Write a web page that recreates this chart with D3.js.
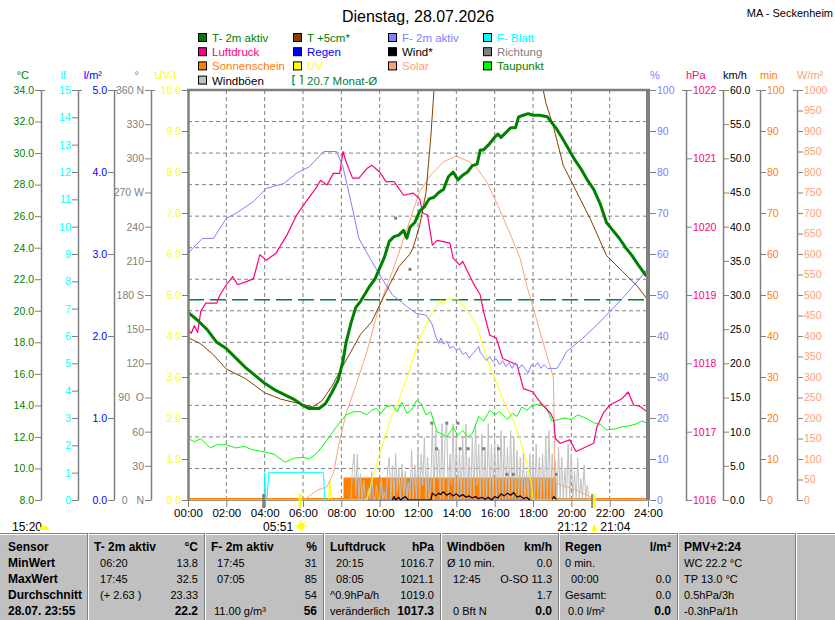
<!DOCTYPE html>
<html>
<head>
<meta charset="utf-8">
<script src="https://cdn.jsdelivr.net/npm/d3@7/dist/d3.min.js"></script>
<style>
  body { margin: 0; background: #fff; }
  text { font-family: "Liberation Sans", Arial, sans-serif; }
</style>
</head>
<body>
<svg id="chart" width="835" height="620"></svg>
<script>
// ---------- data (time "HH:MM", value) ----------
var titleText = "Dienstag, 28.07.2026";
var stationText = "MA - Seckenheim";
var monthAvg = 20.7;

var temp2m = [["00:00",19.9],["00:30",19.4],["01:00",18.8],["01:30",18.0],["02:00",17.6],["02:30",17.0],
  ["03:00",16.4],["03:30",15.9],["04:00",15.4],["04:30",15.0],["05:00",14.7],["05:30",14.4],["06:00",14.0],
  ["06:20",13.8],["06:50",13.8],["07:10",14.1],["07:30",14.8],["07:50",15.6],["08:05",16.8],["08:15",18.0],
  ["08:30",19.2],["08:45",20.2],["09:00",20.6],["09:15",21.1],["09:30",21.6],["09:45",22.0],["10:00",22.7],
  ["10:15",23.4],["10:30",24.4],["10:45",24.7],["11:00",24.8],["11:15",25.1],["11:25",24.6],["11:35",25.3],
  ["11:50",25.6],["12:05",26.3],["12:20",26.6],["12:35",27.1],["12:50",27.2],["13:05",27.5],["13:20",27.7],
  ["13:35",28.5],["13:50",28.8],["14:05",28.3],["14:20",28.6],["14:35",28.8],["14:50",29.2],["15:05",29.3],
  ["15:15",30.2],["15:25",30.2],["15:40",30.5],["16:00",31.0],["16:10",31.2],["16:20",31.0],["16:35",31.3],
  ["16:50",31.6],["17:05",31.6],["17:15",32.3],["17:30",32.4],["17:45",32.5],["18:00",32.4],["18:20",32.4],
  ["18:45",32.3],["19:00",31.9],["19:15",31.5],["19:30",31.0],["19:50",30.3],["20:10",29.6],["20:30",29.0],
  ["20:50",28.3],["21:10",27.7],["21:30",26.8],["21:50",25.6],["22:10",25.1],["22:30",24.6],["22:50",24.0],
  ["23:10",23.5],["23:30",22.9],["23:55",22.2]];

var temp5cm = [["00:00",18.3],["00:40",17.9],["01:20",17.2],["02:00",16.3],["03:00",15.7],["04:00",14.8],
  ["04:50",14.4],["05:50",14.1],["06:30",13.9],["07:00",14.3],["07:30",15.2],["08:05",16.5],["08:30",17.4],
  ["09:00",18.5],["09:35",19.3],["10:20",21.2],["11:00",22.8],["11:35",23.6],["11:45",24.0],["12:05",25.4],
  ["12:25",27.5],["12:40",31.0],["12:50",34.0],["13:10",37.0],["14:00",42.0],["15:00",45.0],["16:00",46.0],
  ["17:00",44.0],["18:00",38.0],["18:30",34.2],["18:40",33.2],["19:05",31.6],["19:35",29.2],["20:15",27.6],
  ["21:00",25.8],["21:50",23.5],["22:40",22.5],["23:25",21.6],["23:55",20.8]];

var humidity = [["00:00",60],["00:15",61.4],["00:45",63.8],["01:20",63.8],["02:00",68.7],["02:30",69.9],
  ["03:25",72.8],["04:05",76.0],["05:00",77.2],["05:40",79.7],["06:20",81.3],["07:05",85],["07:45",85],
  ["08:05",81.3],["08:30",72.8],["08:55",63.8],["09:30",58.9],["10:00",54.9],["10:40",50.0],["11:25",47.2],
  ["11:55",45.5],["12:25",45.1],["12:35",44.0],["12:45",42.7],["12:55",40.0],["13:05",38.2],["13:12",39.5],
  ["13:20",38.0],["13:30",38.8],["13:40",37.0],["13:50",37.5],["14:00",36.5],["14:10",37.0],["14:20",35.5],
  ["14:30",36.0],["14:40",34.6],["14:50",35.5],["15:00",36.5],["15:10",37.5],["15:15",36.0],["15:25",35.0],
  ["15:35",34.0],["15:45",35.0],["15:55",33.7],["16:05",34.5],["16:15",33.0],["16:25",34.0],["16:35",32.5],
  ["16:45",33.5],["16:55",32.1],["17:05",33.5],["17:15",32.0],["17:25",33.0],["17:35",32.0],["17:45",31.0],
  ["17:55",33.0],["18:05",32.5],["18:15",33.5],["18:25",32.1],["18:35",33.0],["18:45",32.1],["19:15",32.1],
  ["19:30",34.0],["19:45",36.2],["20:35",39.4],["21:20",42.7],["22:00",45.9],["22:40",49.2],["23:25",53.2],
  ["23:55",56]];

var pressure = [["00:00",1018.5],["00:10",1018.44],["00:20",1018.55],["00:30",1018.45],["00:40",1018.76],
  ["00:55",1018.88],["01:30",1018.88],["01:40",1019.0],["02:00",1019.15],["02:20",1019.27],["02:35",1019.15],
  ["03:05",1019.2],["03:25",1019.24],["03:45",1019.59],["04:05",1019.51],["04:35",1019.61],["05:10",1019.88],
  ["05:40",1020.17],["06:10",1020.37],["06:40",1020.56],["06:55",1020.68],["07:15",1020.61],["07:35",1020.78],
  ["07:55",1020.78],["08:05",1021.1],["08:15",1020.95],["08:35",1020.71],["08:55",1020.71],["09:20",1020.85],
  ["09:35",1020.9],["10:00",1020.8],["10:20",1020.66],["10:45",1020.66],["11:15",1020.46],["11:45",1020.49],
  ["12:05",1020.41],["12:15",1020.2],["12:30",1020.17],["12:45",1019.73],["13:00",1019.8],["13:40",1019.76],
  ["13:50",1019.54],["14:10",1019.44],["14:20",1019.49],["14:50",1019.2],["15:15",1019.0],["15:25",1018.76],
  ["15:45",1018.41],["16:05",1018.37],["16:25",1018.07],["16:50",1018.02],["17:10",1017.98],["17:30",1017.63],
  ["18:00",1017.58],["18:10",1017.51],["18:30",1017.39],["18:55",1017.27],["19:05",1017.17],["19:10",1016.9],
  ["19:25",1016.83],["19:55",1016.88],["20:15",1016.71],["21:10",1016.83],["21:20",1017.07],["21:40",1017.27],
  ["22:00",1017.39],["22:30",1017.46],["22:40",1017.49],["22:58",1017.58],["23:15",1017.39],["23:35",1017.37],
  ["23:55",1017.3]];

var dewPoint = [["00:00",11.9],["00:20",11.7],["00:40",11.9],["01:10",11.3],["01:30",11.5],["02:00",11.5],
  ["02:30",11.3],["02:55",11.4],["03:20",11.2],["03:45",11.1],["04:10",11.0],["04:30",10.9],["04:50",10.6],
  ["05:05",10.4],["05:30",10.65],["06:00",10.7],["06:20",10.6],["06:45",11.0],["07:15",11.8],["07:45",12.65],
  ["08:15",13.4],["08:40",13.6],["09:00",13.6],["09:20",13.4],["09:35",13.7],["09:50",13.8],["10:05",13.5],
  ["10:20",13.9],["10:40",14.0],["10:55",13.6],["11:10",14.2],["11:25",13.5],["11:40",13.7],["11:55",14.3],
  ["12:10",14.1],["12:25",13.4],["12:40",13.6],["13:00",12.3],["13:15",12.2],["13:30",12.0],["13:50",12.6],
  ["14:05",12.1],["14:20",12.4],["14:35",12.0],["14:50",12.2],["15:10",13.3],["15:25",13.0],["15:45",13.7],
  ["16:00",13.4],["16:15",13.6],["16:40",13.1],["16:55",13.5],["17:10",13.3],["17:25",13.9],["17:40",13.7],
  ["18:00",14.0],["18:20",14.1],["18:40",13.9],["19:00",13.0],["19:20",13.1],["19:40",13.2],["20:00",13.1],
  ["20:20",13.4],["20:45",13.2],["21:10",12.9],["21:30",12.8],["21:50",12.45],["22:15",12.5],["22:40",12.65],
  ["23:00",12.7],["23:20",12.8],["23:40",13.0],["23:55",12.9]];

var solar = [["00:00",0],["05:50",0],["06:10",4],["06:45",24],["07:15",32],["07:35",65],["07:55",146],
  ["08:15",211],["08:50",290],["09:20",362],["10:00",476],["10:40",557],["11:25",660],["12:05",752],
  ["12:40",793],["13:20",825],["14:00",839],["14:40",825],["15:05",809],["15:35",776],["16:05",727],
  ["16:50",646],["17:20",589],["17:40",524],["18:10",443],["18:40",362],["19:04",297],["19:08",45],
  ["19:25",37],["20:15",24],["21:00",8],["21:10",0],["23:55",0]];

var uvIndex = [["00:00",0],["07:20",0],["07:24",0.5],["07:28",0],["09:20",0],["09:40",0.57],["10:00",1.14],
  ["10:40",2.11],["10:55",2.32],["11:35",3.21],["12:05",3.94],["12:40",4.51],["13:10",4.88],["13:20",4.76],
  ["13:30",4.9],["14:05",4.9],["14:30",4.68],["15:05",4.27],["15:25",3.7],["15:55",3.05],["16:25",2.48],
  ["16:40",2.2],["16:58",1.95],["17:20",1.46],["17:40",0.9],["17:55",0.41],["18:00",0],["23:55",0]];

var sunshine = [["00:00",0],["08:10",0],["08:10",5],["19:10",5],["19:10",0],["23:55",0]];
var rain = [["00:00",0],["23:55",0]];
var leafWet = [["03:58",0],["04:00",1],["04:04",0],["04:07",0],["04:13",1],["07:04",1],["07:08",0]];

// wind gusts, 5 minute values starting 08:30
var gustStart = "08:30";
var gusts = [
  0, 4.5, 6.6, 0.5, 6.6, 0, 3.7, 0, 2.7, 0, 0, 1.5,
  0, 4.0, 0, 0, 2.0, 0, 0, 3.0, 0, 1.0, 0, 4.1,
  6.1, 0, 4.9, 0, 6.6, 1.0, 4.6, 0, 5.1, 0, 4.1, 0,
  2.5, 0, 7.1, 0, 5.0, 0, 7.1, 0, 6.6, 2.0, 9.0, 0,
  6.1, 0, 2.0, 11.3, 0, 10.0, 3.0, 7.3, 0, 11.0, 0, 9.5,
  11.0, 0, 6.6, 2.0, 11.0, 0, 9.0, 0, 7.1, 0, 9.0, 0,
  11.0, 0, 6.1, 0, 9.0, 0, 11.0, 2.0, 8.0, 0, 9.5, 0,
  7.6, 0, 11.0, 0, 8.0, 0, 9.0, 0, 8.0, 0, 10.0, 0,
  9.0, 0, 7.6, 0, 10.0, 0, 9.0, 0, 7.1, 0, 6.1, 0,
  6.6, 0, 4.1, 0, 6.6, 0, 6.1, 0, 8.0, 0, 6.1, 0,
  6.6, 0, 9.0, 0, 10.0, 0, 6.6, 0, 5.6, 0, 7.6, 0,
  6.1, 0, 4.6, 0, 8.0, 0, 6.6, 0, 4.1, 0, 6.0, 0,
  3.0, 0, 5.0, 0, 2.0, 0, 0];

var wind = [["10:40",0],["10:45",0.5],["10:50",0],["11:00",0.4],["11:05",0],["11:20",0.5],["11:30",0],
  ["12:40",0],["12:45",1.0],["12:55",0.6],["13:05",1.0],["13:10",0.8],["13:20",1.2],["13:30",0.7],["13:40",1.0],
  ["13:50",0.6],["14:00",0.9],["14:10",0.5],["14:20",0.8],["14:30",0.4],["14:40",0.6],["14:50",0.3],["15:00",0.5],
  ["15:10",0.2],["15:20",0.4],["15:30",0.1],["15:40",0.4],["15:50",0],["16:00",0.5],["16:10",0.3],["16:20",0.9],
  ["16:30",0.6],["16:40",1.0],["16:50",0.7],["17:00",1.1],["17:10",0.4],["17:20",0.6],["17:30",0.2],["17:40",0.4],
  ["17:50",0],["17:55",null],["19:00",0],["19:05",0.5],["19:15",0]];

var direction = [["10:50",247.5],["11:35",202.5],["12:43",67.5],["12:58",45],["13:30",67.5],["14:05",67.5],
  ["14:12",45],["14:37",45],["15:25",45],["16:12",45],["16:38",22.5],["16:58",22.5],["19:12",22.5]];

// twilight / sunrise / sunset markers
var dayMarks = [["03:57","#808080"],["05:51","#ffff00"],["21:07","#808080"],["21:12","#ffff00"]];
var moonText = "15:20", sunriseText = "05:51", sunsetTexts = ["21:12", "21:04"];

// legend
var legendLabels = ["T- 2m aktiv","T +5cm*","F- 2m aktiv","F- Blatt",
                    "Luftdruck","Regen","Wind*","Richtung",
                    "Sonnenschein","UV","Solar","Taupunkt",
                    "Windböen","20.7 Monat-Ø"];
var legendSwatch = ["#008000","#804000","#8080ff","#00ffff",
                    "#ff0080","#0000ff","#000000","#808080",
                    "#ff8000","#ffff00","#ffa07a","#00ff00",
                    "#c0c0c0","none"];
var legendText   = ["#008000","#008000","#8080ff","#00ffff",
                    "#ff0080","#0000ff","#000000","#808080",
                    "#ff8000","#ffff00","#ffa07a","#008000",
                    "#000000","#008040"];

// table
var tableHeads = [["Sensor",""],["T- 2m aktiv","°C"],["F- 2m aktiv","%"],["Luftdruck","hPa"],
                  ["Windböen","km/h"],["Regen","l/m²"],["PMV+2:24",""],["",""]];
var tableRows = ["MinWert","MaxWert","Durchschnitt","28.07. 23:55"];
var tableCells = [
  null,
  [["  06:20","13.8"],["  17:45","32.5"],["  (+ 2.63 )","23.33"],["","22.2"]],
  [["  17:45","31"],["  07:05","85"],["","54"],[" 11.00 g/m³","56"]],
  [["  20:15","1016.7"],["  08:05","1021.1"],["^0.9hPa/h","1019.0"],["veränderlich","1017.3"]],
  [["Ø 10 min.","0.0"],["  12:45","O-SO 11.3"],["","1.7"],["  0 Bft N","0.0"]],
  [["0 min.",""],["  00:00","0.0"],["Gesamt:","0.0"],[" 0.0 l/m²","0.0"]],
  [["WC 22.2 °C",""],["TP 13.0 °C",""],["0.5hPa/3h",""],["-0.3hPa/1h",""]],
  null];
var tableCols = [0, 87, 204, 323, 440, 558, 677, 795, 835];

// ---------- helpers ----------
function hours(s) { var p = s.split(":"); return +p[0] + (+p[1]) / 60; }

var svg = d3.select("#chart");
// plot box (don't call these top/left: window.top is read-only)
var pL = 188, pR = 648, pT = 90, pB = 500;

var x = d3.scaleLinear().domain([0, 24]).range([pL, pR]);
var yTemp = d3.scaleLinear().domain([8, 34]).range([pB, pT]);
var yLeaf = d3.scaleLinear().domain([0, 15]).range([pB, pT]);
var yRain = d3.scaleLinear().domain([0, 5]).range([pB, pT]);
var yDir = d3.scaleLinear().domain([0, 360]).range([pB, pT]);
var yUV = d3.scaleLinear().domain([0, 10]).range([pB, pT]);
var yHum = d3.scaleLinear().domain([0, 100]).range([pB, pT]);
var yPres = d3.scaleLinear().domain([1016, 1022]).range([pB, pT]);
var yWind = d3.scaleLinear().domain([0, 60]).range([pB, pT]);
var yMin = d3.scaleLinear().domain([0, 100]).range([pB, pT]);
var ySolar = d3.scaleLinear().domain([0, 1000]).range([pB, pT]);

// title
svg.append("text").attr("x", 418).attr("y", 22).attr("text-anchor", "middle")
  .attr("font-size", 16).text(titleText);
svg.append("text").attr("x", 833).attr("y", 17).attr("text-anchor", "end")
  .attr("font-size", 11).text(stationText);

// legend
legendLabels.forEach(function (label, i) {
  var col = i % 4, row = Math.floor(i / 4);
  var lx = 198 + col * 95, ly = 33 + row * 14.2;
  if (legendSwatch[i] === "none") {
    svg.append("path").attr("d", "M" + (lx + 2) + "," + ly + "H" + lx + "V" + (ly + 9) + "H" + (lx + 2) +
        "M" + (lx + 7) + "," + ly + "H" + (lx + 9) + "V" + (ly + 9))
      .attr("fill", "none").attr("stroke", "#008040").attr("stroke-width", 1.2);
  } else {
    svg.append("rect").attr("x", lx + 0.5).attr("y", ly + 0.5).attr("width", 8).attr("height", 8)
      .attr("fill", legendSwatch[i]).attr("stroke", "#000");
  }
  svg.append("text").attr("x", lx + 14).attr("y", ly + 9).attr("font-size", 11.5)
    .attr("fill", legendText[i]).text(label);
});

// grid
var grid = svg.append("g").attr("stroke", "#808080").attr("stroke-dasharray", "4,3").attr("stroke-width", 1);
d3.range(2, 24, 2).forEach(function (h) {
  grid.append("line").attr("x1", x(h)).attr("x2", x(h)).attr("y1", pT).attr("y2", pB);
});
d3.range(10, 34, 2).forEach(function (t) {
  grid.append("line").attr("x1", pL).attr("x2", pR).attr("y1", yTemp(t)).attr("y2", yTemp(t));
});

// plot clip
svg.append("clipPath").attr("id", "plotclip").append("rect")
  .attr("x", pL).attr("y", pT).attr("width", pR - pL).attr("height", pB - pT + 1);
var plot = svg.append("g").attr("clip-path", "url(#plotclip)");

function drawLine(data, yScale, color, width) {
  var line = d3.line()
    .defined(function (d) { return d[1] !== null; })
    .x(function (d) { return x(hours(d[0])); })
    .y(function (d) { return yScale(d[1]); });
  plot.append("path").datum(data).attr("fill", "none").attr("stroke", color)
    .attr("stroke-width", width).attr("stroke-linejoin", "round").attr("d", line);
}

// month average
plot.append("line").attr("x1", pL).attr("x2", pR)
  .attr("y1", yTemp(monthAvg)).attr("y2", yTemp(monthAvg))
  .attr("stroke", "#008040").attr("stroke-width", 1.3).attr("stroke-dasharray", "16,6");

drawLine(rain, yRain, "#0000ff", 1);

// sunshine area
plot.append("path").datum(sunshine)
  .attr("fill", "#ff8000").attr("stroke", "#ff8000").attr("stroke-width", 2)
  .attr("d", d3.area()
    .x(function (d) { return x(hours(d[0])); })
    .y0(yMin(0) - 1)
    .y1(function (d) { return yMin(d[1]) - 1; }));

// gusts
var g0 = hours(gustStart);
plot.append("path").datum(gusts).attr("fill", "none").attr("stroke", "#c0c0c0").attr("stroke-width", 1)
  .attr("d", d3.line()
    .x(function (d, i) { return x(g0 + i * 5 / 60); })
    .y(function (d) { return yWind(d) - 1; }));

drawLine(wind, yWind, "#000000", 1.2);

// direction dots
plot.selectAll("rect.dir").data(direction).enter().append("rect")
  .attr("class", "dir")
  .attr("x", function (d) { return x(hours(d[0])) - 1.5; })
  .attr("y", function (d) { return yDir(d[1]) - 1.5; })
  .attr("width", 3).attr("height", 3).attr("fill", "#808080");

drawLine(leafWet, yLeaf, "#00ffff", 1);
drawLine(uvIndex, yUV, "#ffff00", 1);
drawLine(solar, ySolar, "#ffa07a", 1);
drawLine(dewPoint, yTemp, "#00ff00", 1);
drawLine(pressure, yPres, "#ff0080", 1.2);
drawLine(humidity, yHum, "#8080ff", 1);
drawLine(temp5cm, yTemp, "#804000", 1);
drawLine(temp2m, yTemp, "#008000", 3);

// frame
svg.append("line").attr("x1", pL - 1).attr("x2", pR + 2).attr("y1", pT).attr("y2", pT)
  .attr("stroke", "#808080").attr("stroke-width", 2.5);
svg.append("line").attr("x1", pR).attr("x2", pR).attr("y1", pT - 1).attr("y2", pB)
  .attr("stroke", "#808080").attr("stroke-width", 4);

// axes
function styleAxis(g, color) {
  g.attr("font-family", "Liberation Sans, Arial, sans-serif").attr("font-size", 10.5);
  g.select(".domain").attr("stroke", "#808080").attr("stroke-width", 1.5);
  g.selectAll(".tick line").attr("stroke", "#808080");
  g.selectAll(".tick text").attr("fill", color);
}
function leftAxis(scale, ax, step, fmt, color, title) {
  var d = scale.domain();
  var g = svg.append("g").attr("transform", "translate(" + ax + ",0)")
    .call(d3.axisLeft(scale).tickValues(d3.range(d[0], d[1] + step / 2, step)).tickFormat(fmt)
      .tickSize(6).tickSizeOuter(0).tickPadding(1));
  styleAxis(g, color);
  g.append("line").attr("x1", -6).attr("x2", 4).attr("y1", pT + 0.5).attr("y2", pT + 0.5).attr("stroke", "#808080");
  svg.append("text").attr("x", ax - 12).attr("y", 79).attr("text-anchor", "end")
    .attr("font-size", 11).attr("fill", color).text(title);
  return g;
}
function rightAxis(scale, ax, step, fmt, color, title) {
  var d = scale.domain();
  var g = svg.append("g").attr("transform", "translate(" + ax + ",0)")
    .call(d3.axisRight(scale).tickValues(d3.range(d[0], d[1] + step / 2, step)).tickFormat(fmt)
      .tickSize(6).tickSizeOuter(0).tickPadding(1));
  styleAxis(g, color);
  g.append("line").attr("x1", -4).attr("x2", 6).attr("y1", pT + 0.5).attr("y2", pT + 0.5).attr("stroke", "#808080");
  svg.append("text").attr("x", ax).attr("y", 79).attr("text-anchor", "start")
    .attr("font-size", 11).attr("fill", color).text(title);
  return g;
}

var f1 = d3.format(".1f");
leftAxis(yTemp, 41, 2, f1, "#008000", "°C");
leftAxis(yLeaf, 78, 1, d3.format("d"), "#00ffff", "lf");
leftAxis(yRain, 114, 1, f1, "#0000ff", "l/m²");
var dirNames = { 360: "360 N", 270: "270 W", 180: "180 S", 90: "90  O", 0: "0   N" };
var dirAxis = leftAxis(yDir, 151, 30, function (v) { return dirNames[v] || v; }, "#808080", "°");
dirAxis.selectAll(".tick text").attr("xml:space", "preserve");
var uvAxis = leftAxis(yUV, pL, 1, f1, "#ffff00", "UV-I");
uvAxis.select(".domain").attr("stroke-width", 2.5);

var pctAxis = rightAxis(yHum, pR + 2, 10, d3.format("d"), "#8080ff", "%");
pctAxis.select(".domain").remove();
rightAxis(yPres, 686, 1, d3.format("d"), "#ff0080", "hPa");
rightAxis(yWind, 723, 5, f1, "#000000", "km/h");
rightAxis(yMin, 760, 10, d3.format("d"), "#ff8000", "min");
rightAxis(ySolar, 797, 50, d3.format("d"), "#ffa07a", "W/m²");

// x axis
var xg = svg.append("g").attr("transform", "translate(0," + pB + ")")
  .call(d3.axisBottom(x).tickValues(d3.range(0, 25, 2))
    .tickFormat(function (h) { return (h < 10 ? "0" : "") + h + ":00"; })
    .tickSize(7).tickSizeOuter(0).tickPadding(2));
xg.attr("font-family", "Liberation Sans, Arial, sans-serif").attr("font-size", 11.5);
xg.select(".domain").attr("stroke", "#808080").attr("stroke-width", 1).attr("opacity", 0.6);
xg.selectAll(".tick line").attr("stroke", "#808080");
xg.selectAll(".tick text").attr("fill", "#000");

// twilight / sun markers
dayMarks.forEach(function (m) {
  svg.append("rect").attr("x", x(hours(m[0])) - 1.5).attr("y", 494).attr("width", 3).attr("height", 14)
    .attr("fill", m[1]);
});

function sunIcon(cx, cy) {
  var g = svg.append("g").attr("stroke", "#ffff00").attr("stroke-width", 1);
  d3.range(0, 8).forEach(function (k) {
    var a = k * Math.PI / 4;
    g.append("line").attr("x1", cx + Math.cos(a) * 3).attr("y1", cy + Math.sin(a) * 3)
      .attr("x2", cx + Math.cos(a) * 6).attr("y2", cy + Math.sin(a) * 6);
  });
  svg.append("circle").attr("cx", cx).attr("cy", cy).attr("r", 3.2).attr("fill", "#ffff00");
}
var infoY = 531;
svg.append("text").attr("x", 12).attr("y", infoY).attr("font-size", 12).text(moonText);
svg.append("path").attr("d", "M39,530 A5,4 0 0 1 49,530 Z").attr("fill", "#ffff00");

var sr = x(hours(sunriseText));
svg.append("text").attr("x", sr - 7).attr("y", infoY).attr("text-anchor", "end").attr("font-size", 12).text(sunriseText);
sunIcon(sr + 1, 526);

var ss = x(hours(sunsetTexts[0]));
svg.append("text").attr("x", ss - 7).attr("y", infoY).attr("text-anchor", "end").attr("font-size", 12).text(sunsetTexts[0]);
svg.append("path").attr("d", "M" + (ss - 3) + ",531 L" + ss + ",524 L" + (ss + 3) + ",531 Z").attr("fill", "#ffff00");
svg.append("text").attr("x", ss + 6).attr("y", infoY).attr("font-size", 12).text(sunsetTexts[1]);

// table
var tY = 533;
svg.append("rect").attr("x", 0).attr("y", tY).attr("width", 835).attr("height", 620 - tY).attr("fill", "#c0c0c0");
svg.append("line").attr("x1", 0).attr("x2", 835).attr("y1", tY + 0.5).attr("y2", tY + 0.5).attr("stroke", "#808080");
svg.append("line").attr("x1", 0).attr("x2", 835).attr("y1", tY + 1.5).attr("y2", tY + 1.5).attr("stroke", "#fff");
tableCols.slice(1, -1).forEach(function (cx) {
  svg.append("line").attr("x1", cx + 0.5).attr("x2", cx + 0.5).attr("y1", tY).attr("y2", 620).attr("stroke", "#808080");
  svg.append("line").attr("x1", cx + 1.5).attr("x2", cx + 1.5).attr("y1", tY).attr("y2", 620).attr("stroke", "#fff");
});
var rowY = [551, 567, 583, 599, 615];
var tbl = svg.append("g").attr("fill", "#000");
tableHeads.forEach(function (h, c) {
  var lx = c === 0 ? 8 : tableCols[c] + 7, rx = tableCols[c + 1] - 6;
  tbl.append("text").attr("x", lx).attr("y", rowY[0]).attr("font-size", 12).attr("font-weight", "bold").text(h[0]);
  tbl.append("text").attr("x", rx).attr("y", rowY[0]).attr("text-anchor", "end")
    .attr("font-size", 12).attr("font-weight", "bold").text(h[1]);
  if (c === 0) {
    tableRows.forEach(function (r, i) {
      tbl.append("text").attr("x", lx).attr("y", rowY[i + 1]).attr("font-size", 12)
        .attr("font-weight", "bold").text(r);
    });
  } else if (tableCells[c]) {
    tableCells[c].forEach(function (cell, i) {
      tbl.append("text").attr("x", lx).attr("y", rowY[i + 1]).attr("font-size", 11)
        .attr("xml:space", "preserve").text(cell[0]);
      tbl.append("text").attr("x", rx).attr("y", rowY[i + 1]).attr("text-anchor", "end")
        .attr("font-size", i === 3 ? 12 : 11).attr("font-weight", i === 3 ? "bold" : "normal").text(cell[1]);
    });
  }
});
</script>
</body>
</html>
